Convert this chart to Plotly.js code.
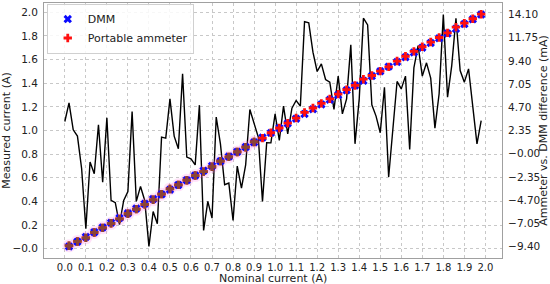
<!DOCTYPE html>
<html>
<head>
<meta charset="utf-8">
<script src="https://cdn.plot.ly/plotly-3.0.1.min.js"></script>
<style>
  html, body { margin: 0; padding: 0; background: #fff; }
  #chart { width: 550px; height: 284px; }
</style>
</head>
<body>
<div id="chart"></div>
<script>
// Nominal current for every difference sample (A)
const lineNominal = [
  0.00, 0.02, 0.04, 0.06, 0.08, 0.10, 0.12, 0.14, 0.16, 0.18,
  0.20, 0.22, 0.24, 0.26, 0.28, 0.30, 0.32, 0.34, 0.36, 0.38,
  0.40, 0.42, 0.44, 0.46, 0.48, 0.50, 0.52, 0.54, 0.56, 0.58,
  0.60, 0.62, 0.64, 0.66, 0.68, 0.70, 0.72, 0.74, 0.76, 0.78,
  0.80, 0.82, 0.84, 0.86, 0.88, 0.90, 0.92, 0.94, 0.96, 0.98,
  1.00, 1.02, 1.04, 1.06, 1.08, 1.10, 1.12, 1.14, 1.16, 1.18,
  1.20, 1.22, 1.24, 1.26, 1.28, 1.30, 1.32, 1.34, 1.36, 1.38,
  1.40, 1.42, 1.44, 1.46, 1.48, 1.50, 1.52, 1.54, 1.56, 1.58,
  1.60, 1.62, 1.64, 1.66, 1.68, 1.70, 1.72, 1.74, 1.76, 1.78,
  1.80, 1.82, 1.84, 1.86, 1.88, 1.90, 1.92, 1.94, 1.96, 1.98
];

// Ammeter minus DMM (mA)
const diffMilliamps = [
  3.26, 5.15, 2.42, 1.78, -1.53, -7.61, -0.85, -2.04, 2.93, -2.88,
  3.64, -4.74, -4.97, -7.20, -4.74, -3.83, 4.27, -4.84, -3.32, -4.74,
  -9.40, -5.86, -7.10, 1.68, 1.58, 5.56, 1.78, 0.50, 8.09, -0.35,
  -0.52, -1.13, 4.92, -7.78, -4.84, -6.53, 3.71, 1.00, -3.15, -2.98,
  -6.77, -1.26, -3.49, -1.13, 4.48, 3.03, 1.68, -4.84, 1.12, 1.10,
  4.04, 1.34, 4.82, 2.01, 4.62, 5.39, 4.82, 13.39, 13.26, 10.29,
  8.33, 9.11, 7.52, 7.25, 4.48, 7.86, 4.04, 5.56, 11.03, 1.00,
  5.56, 13.73, 13.06, 4.95, 3.81, 2.12, 6.74, -2.37, 2.19, 7.32,
  6.57, 7.86, 0.42, 8.70, 10.96, 7.86, 9.21, 7.66, 2.59, 6.07,
  14.10, 5.73, 8.93, 13.73, 8.43, 7.25, 8.60, 4.72, 1.00, 3.36
];

// Marker points (A)
const markerNominal = [
  0.02, 0.06, 0.10, 0.14, 0.18, 0.22, 0.26, 0.30, 0.34, 0.38,
  0.42, 0.46, 0.50, 0.54, 0.58, 0.62, 0.66, 0.70, 0.74, 0.78,
  0.82, 0.86, 0.90, 0.94, 0.98, 1.02, 1.06, 1.10, 1.14, 1.18,
  1.22, 1.26, 1.30, 1.34, 1.38, 1.42, 1.46, 1.50, 1.54, 1.58,
  1.62, 1.66, 1.70, 1.74, 1.78, 1.82, 1.86, 1.90, 1.94, 1.98
];
const dmmCurrent = [
  0.020, 0.060, 0.100, 0.140, 0.180, 0.220, 0.260, 0.300, 0.340, 0.380,
  0.420, 0.460, 0.500, 0.540, 0.580, 0.620, 0.660, 0.700, 0.740, 0.780,
  0.820, 0.860, 0.900, 0.940, 0.980, 1.020, 1.060, 1.100, 1.140, 1.180,
  1.220, 1.260, 1.300, 1.340, 1.380, 1.420, 1.460, 1.500, 1.540, 1.580,
  1.620, 1.660, 1.700, 1.740, 1.780, 1.820, 1.860, 1.900, 1.940, 1.980
];
const ammeterCurrent = [
  0.0252, 0.0618, 0.0924, 0.1380, 0.1771, 0.2153, 0.2528, 0.2962, 0.3352, 0.3753,
  0.4141, 0.4617, 0.5056, 0.5405, 0.5797, 0.6189, 0.6522, 0.6935, 0.7410, 0.7770,
  0.8187, 0.8589, 0.9030, 0.9352, 0.9811, 1.0213, 1.0620, 1.1054, 1.1534, 1.1903,
  1.2291, 1.2673, 1.3079, 1.3456, 1.3810, 1.4337, 1.4650, 1.5021, 1.5376, 1.5873,
  1.6279, 1.6687, 1.7079, 1.7477, 1.7861, 1.8257, 1.8737, 1.9073, 1.9447, 1.9834
];

const xTicks = [0, 0.1, 0.2, 0.3, 0.4, 0.5, 0.6, 0.7, 0.8, 0.9, 1.0,
  1.1, 1.2, 1.3, 1.4, 1.5, 1.6, 1.7, 1.8, 1.9, 2.0];
const xTickText = ['0.0', '0.1', '0.2', '0.3', '0.4', '0.5', '0.6', '0.7', '0.8', '0.9', '1.0',
  '1.1', '1.2', '1.3', '1.4', '1.5', '1.6', '1.7', '1.8', '1.9', '2.0'];
const leftTicks = [0, 0.2, 0.4, 0.6, 0.8, 1.0, 1.2, 1.4, 1.6, 1.8, 2.0];
const leftTickText = ['\u22120.0', '0.2', '0.4', '0.6', '0.8', '1.0', '1.2', '1.4', '1.6', '1.8', '2.0'];
const rightTicks = [-9.40, -7.05, -4.70, -2.35, 0, 2.35, 4.70, 7.05, 9.40, 11.75, 14.10];
const rightTickText = ['\u22129.40', '\u22127.05', '\u22124.70', '\u22122.35', '\u22120.00',
  '2.35', '4.70', '7.05', '9.40', '11.75', '14.10'];

const FONT = 'DejaVu Sans, sans-serif';
const TXT = '#222';
const haloLimit = 0.92;

// low-current points get the pink glow and darker ammeter markers
const lowX = markerNominal.filter((x) => x < haloLimit);
const lowY = ammeterCurrent.filter((_, i) => markerNominal[i] < haloLimit);

const traces = [
  {
    x: lineNominal,
    y: diffMilliamps,
    yaxis: 'y',
    mode: 'lines',
    line: { color: '#000', width: 1.4 },
    showlegend: false,
    hoverinfo: 'skip'
  },
  {
    x: lowX,
    y: lowY,
    yaxis: 'y2',
    mode: 'markers',
    marker: { symbol: 'circle', size: 13, color: 'rgba(255,110,225,0.2)', line: { width: 0 } },
    showlegend: false,
    hoverinfo: 'skip'
  },
  {
    x: markerNominal,
    y: dmmCurrent,
    yaxis: 'y2',
    name: 'DMM',
    mode: 'markers',
    marker: { symbol: 'x', size: 7.5, color: '#0a0aff', line: { width: 0 } }
  },
  {
    x: markerNominal,
    y: ammeterCurrent,
    yaxis: 'y2',
    name: 'Portable ammeter',
    mode: 'markers',
    marker: { symbol: 'cross', size: 7, color: '#ff1010', line: { width: 0 } }
  },
  {
    x: lowX,
    y: lowY,
    yaxis: 'y2',
    mode: 'markers',
    marker: { symbol: 'cross', size: 7, color: '#8a4536', line: { width: 0 } },
    showlegend: false,
    hoverinfo: 'skip'
  }
];

const layout = {
  width: 550,
  height: 284,
  margin: { l: 44, r: 48, t: 3, b: 26 },
  paper_bgcolor: '#fff',
  plot_bgcolor: '#fff',
  font: { family: FONT, size: 10.5, color: TXT },
  showlegend: true,
  legend: {
    x: 0.006, y: 0.998, xanchor: 'left', yanchor: 'top',
    bgcolor: 'rgba(255,255,255,0.85)',
    bordercolor: '#d0d0d0', borderwidth: 1,
    font: { family: FONT, size: 11, color: TXT },
    itemwidth: 30,
    tracegroupgap: 0
  },
  xaxis: {
    range: [-0.099, 2.079],
    tickmode: 'array', tickvals: xTicks, ticktext: xTickText,
    ticks: '', ticklabelstandoff: 0,
    tickfont: { family: FONT, size: 10, color: TXT },
    showgrid: true, gridcolor: '#c8c8c8', griddash: 'dot', gridwidth: 1,
    zeroline: false,
    showline: true, linecolor: '#a0a0a0', linewidth: 1, mirror: true,
    automargin: false
  },
  yaxis: {
    side: 'right',
    range: [-10.575, 15.275],
    tickmode: 'array', tickvals: rightTicks, ticktext: rightTickText,
    ticks: '', ticklabelstandoff: 3,
    tickfont: { family: FONT, size: 10.5, color: TXT },
    showgrid: false, zeroline: false,
    showline: true, linecolor: '#a0a0a0', linewidth: 1,
    title: { text: 'Ammeter vs. DMM difference (mA)', font: { family: FONT, size: 11, color: TXT }, standoff: 3 },
    automargin: false
  },
  yaxis2: {
    overlaying: 'y',
    side: 'left',
    range: [-0.078, 2.078],
    tickmode: 'array', tickvals: leftTicks, ticktext: leftTickText,
    ticks: '', ticklabelstandoff: 3,
    tickfont: { family: FONT, size: 10.5, color: TXT },
    showgrid: true, gridcolor: '#c8c8c8', griddash: 'dot', gridwidth: 1,
    zeroline: false,
    showline: true, linecolor: '#a0a0a0', linewidth: 1,
    title: { text: 'Measured current (A)', font: { family: FONT, size: 11, color: TXT }, standoff: 3 },
    automargin: false
  },
  annotations: [
    {
      text: 'Nominal current (A)',
      xref: 'paper', yref: 'paper',
      x: 0.5, y: -0.08, xanchor: 'center', yanchor: 'middle',
      showarrow: false,
      font: { family: FONT, size: 11, color: TXT }
    }
  ]
};

Plotly.newPlot('chart', traces, layout, { displayModeBar: false, staticPlot: true });
</script>
</body>
</html>
